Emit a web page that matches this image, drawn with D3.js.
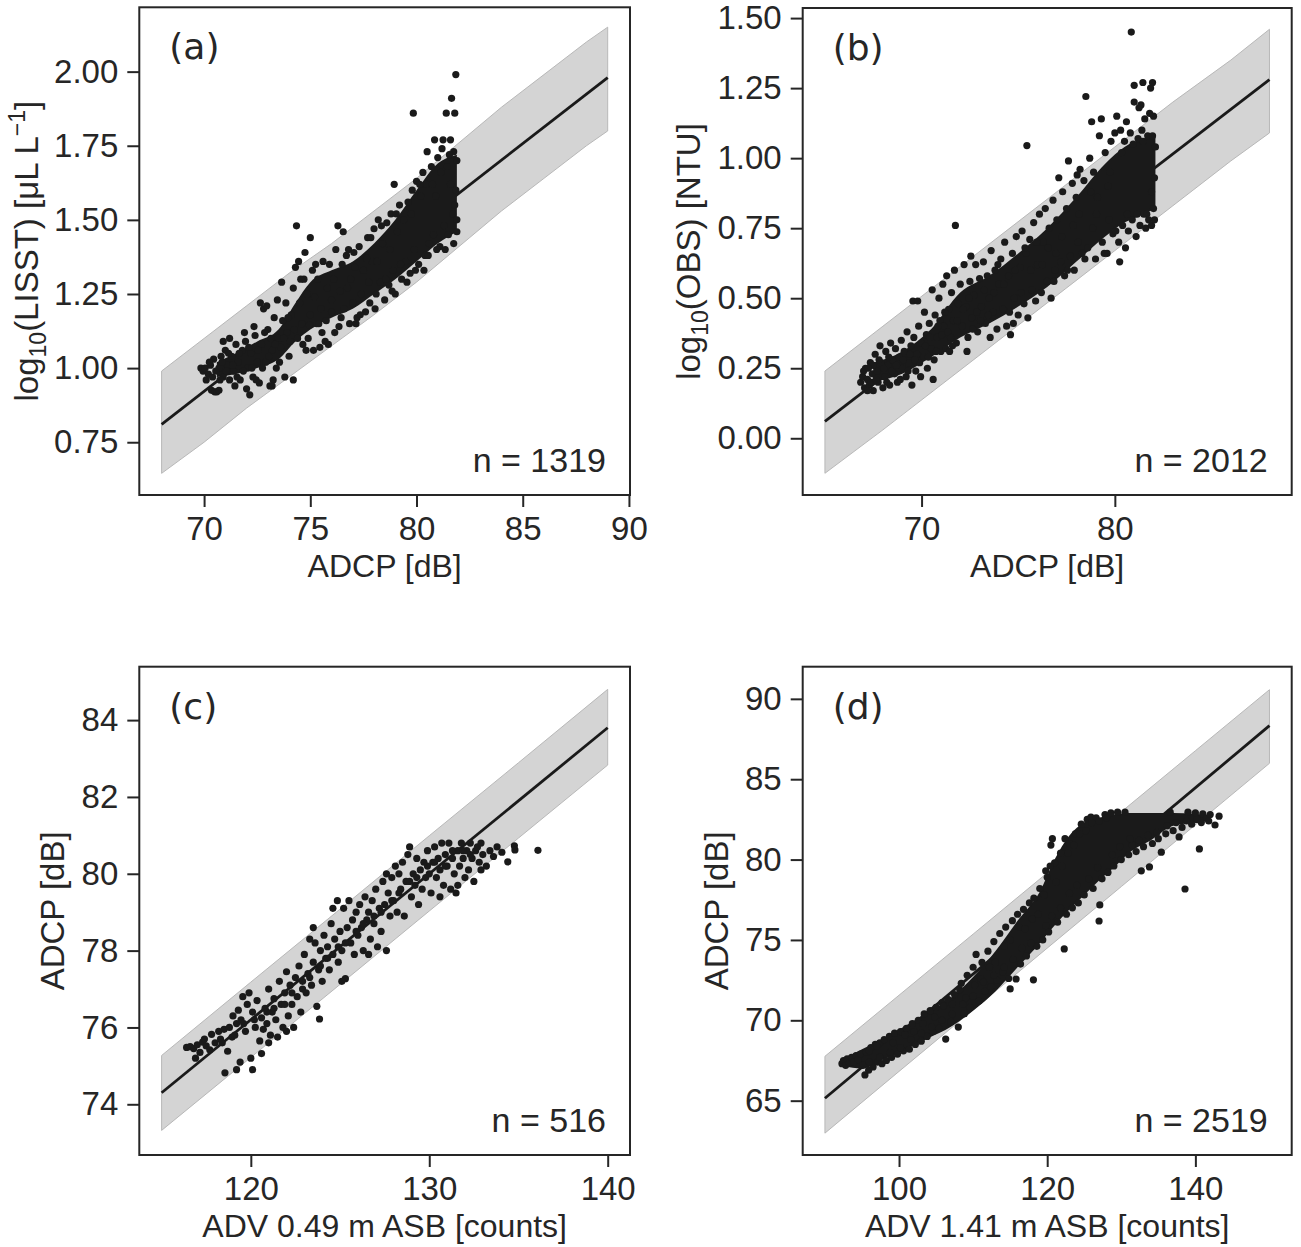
<!DOCTYPE html>
<html>
<head>
<meta charset="utf-8">
<script src="https://cdn.jsdelivr.net/npm/d3@7"></script>
<style>
  body { margin: 0; background: #fff; }
  text { font-family: "Liberation Sans", Arial, sans-serif; fill: #262626; }
</style>
</head>
<body>
<div id="fig"></div>
<script>
// ---- panel (a): LISST vs ADCP ----
var aXTicks = [70, 75, 80, 85, 90];
var aYTicks = [0.75, 1.0, 1.25, 1.5, 1.75, 2.0];
var aLineX = [68, 89];
var aLineY = [0.81, 1.98];
var aBandX = [68, 70, 72, 74, 76, 78, 80, 82, 84, 86, 88, 89];
var aBandHi = [0.99, 1.10, 1.21, 1.32, 1.42, 1.53, 1.64, 1.76, 1.88, 1.99, 2.10, 2.15];
var aBandLo = [0.645, 0.75, 0.865, 0.97, 1.075, 1.18, 1.29, 1.41, 1.53, 1.64, 1.75, 1.80];
// dense black core of overlapping dots
var aCoreX = [70.6, 71.5, 72.5, 73.5, 74.3, 75, 76, 77, 78, 79, 80, 81, 81.9];
var aCoreLo = [0.97, 0.98, 1.00, 1.03, 1.09, 1.13, 1.17, 1.20, 1.25, 1.30, 1.36, 1.42, 1.46];
var aCoreHi = [1.02, 1.05, 1.09, 1.13, 1.22, 1.29, 1.33, 1.36, 1.42, 1.50, 1.60, 1.69, 1.72];
var aPoints = [
  [69.85,1.00],[69.95,0.99],[70.05,1.0],[70.2,0.98],[70.3,1.01],[70.4,0.97],[70.35,0.925],[70.5,0.92],[70.6,0.92],[70.7,0.925],[70.45,1.03],
  [70.7,1.0],[70.8,1.04],[70.9,0.97],[71.0,1.06],[71.1,1.01],[71.2,0.96],[71.3,1.04],[71.4,0.99],[71.5,1.08],[70.9,1.09],[71.2,1.1],[71.45,0.94],
  [71.6,1.02],[71.7,0.96],[71.8,1.06],[71.9,1.12],[72.0,0.93],[72.05,1.0],[72.2,1.05],[72.3,0.97],[72.4,1.11],[72.5,1.02],[72.15,0.91],[71.95,1.09],[72.35,1.14],
  [72.6,0.95],[72.7,1.08],[72.8,1.2],[72.9,1.02],[73.0,1.13],[73.1,0.94],[73.2,1.06],[73.3,1.17],[73.4,1.0],[73.5,1.1],[72.65,1.22],[72.95,1.21],[73.25,0.96],[73.45,1.23],[73.2,0.94],
  [73.6,1.07],[73.65,1.29],[73.7,1.16],[73.8,0.97],[73.85,1.22],[73.9,1.12],[74.0,1.04],[74.1,1.18],[74.2,0.96],[74.2,1.27],[74.3,1.34],[74.35,1.48],[74.4,1.1],[74.45,1.36],[74.5,1.22],
  [74.6,1.15],[74.7,1.3],[74.75,1.39],[74.8,1.06],[74.85,1.25],[74.9,1.1],[75.0,1.44],[75.0,1.18],[75.1,1.33],[75.15,1.06],[75.2,1.24],[75.3,1.15],[75.35,1.3],[75.45,1.07],[75.5,1.2],[74.95,1.145],[75.4,1.15],
  [75.6,1.36],[75.7,1.09],[75.8,1.27],[75.85,1.08],[75.9,1.35],[76.0,1.19],[76.1,1.3],[76.2,1.4],[76.3,1.48],[76.35,1.14],[76.4,1.26],[76.5,1.35],[76.55,1.46],[76.0,1.23],
  [76.6,1.2],[76.7,1.38],[76.8,1.40],[76.85,1.15],[76.9,1.3],[77.0,1.22],[77.1,1.34],[77.2,1.17],[77.3,1.41],[77.4,1.25],[77.5,1.33],[77.15,1.15],
  [77.6,1.19],[77.7,1.44],[77.8,1.22],[77.9,1.36],[78.0,1.47],[78.1,1.25],[78.2,1.50],[78.3,1.29],[78.4,1.42],[78.5,1.23],[77.75,1.29],[78.15,1.36],
  [78.6,1.49],[78.7,1.28],[78.8,1.52],[78.9,1.33],[78.95,1.62],[79.0,1.25],[79.1,1.46],[79.2,1.55],[79.3,1.3],[79.4,1.5],[79.5,1.36],[78.75,1.40],
  [79.6,1.56],[79.7,1.32],[79.8,1.6],[79.85,1.86],[79.9,1.4],[80.0,1.63],[80.1,1.35],[80.2,1.58],[80.3,1.66],[80.4,1.38],[80.5,1.73],[80.45,1.62],
  [80.6,1.42],[80.7,1.68],[80.8,1.45],[80.85,1.77],[80.9,1.58],[81.0,1.71],[81.1,1.41],[81.2,1.74],[81.25,1.77],[81.3,1.48],[81.4,1.86],[81.45,1.68],
  [81.5,1.45],[81.6,1.77],[81.65,1.91],[81.7,1.52],[81.75,1.73],[81.8,1.86],[81.85,1.99],[81.85,1.6],[81.9,1.70],[81.9,1.50],[81.8,1.55],[81.6,1.62],
  [70.1,0.96],[70.25,1.02],[70.55,0.99],[70.75,0.96],[70.85,1.02],[71.05,0.99],[71.15,1.05],[71.35,1.01],[71.55,0.97],[71.65,1.05],[71.85,0.99],[72.1,1.07],
  [72.25,1.0],[72.45,0.96],[72.55,1.06],[72.75,1.0],[72.85,1.12],[73.05,1.04],[73.15,1.1],[73.35,1.08],[73.55,1.02],[73.75,1.1],[73.95,1.17],[74.05,1.09],
  [74.25,1.13],[74.55,1.3],[74.65,1.08],[75.25,1.35],[75.55,1.12],[75.75,1.16],[76.15,1.12],[76.45,1.17],[76.75,1.27],[77.05,1.39],[77.35,1.18],[77.65,1.37],
  [77.85,1.44],[78.05,1.2],[78.35,1.48],[78.55,1.30],[78.85,1.26],[79.05,1.52],[79.25,1.35],[79.55,1.29],[79.75,1.52],[79.95,1.33],[80.15,1.62],[80.35,1.33],
  [80.55,1.38],[80.75,1.62],[80.95,1.40],[81.15,1.66],[81.35,1.40],[81.55,1.72],[81.75,1.42],[81.9,1.46]
];

// ---- panel (b): OBS vs ADCP ----
var bXTicks = [70, 80];
var bYTicks = [0.0, 0.25, 0.5, 0.75, 1.0, 1.25, 1.5];
var bLineX = [65, 88];
var bLineY = [0.06, 1.28];
var bBandX = [65, 68, 71, 74, 77, 80, 83, 86, 88];
var bBandHi = [0.24, 0.40, 0.56, 0.72, 0.88, 1.04, 1.20, 1.35, 1.46];
var bBandLo = [-0.125, 0.03, 0.19, 0.35, 0.51, 0.67, 0.83, 0.99, 1.09];
var bCoreX = [67.5, 69, 70.5, 72, 73.5, 75, 76.5, 78, 79.5, 80.5, 81.5, 82.1];
var bCoreLo = [0.20, 0.23, 0.29, 0.36, 0.41, 0.47, 0.54, 0.63, 0.72, 0.77, 0.80, 0.82];
var bCoreHi = [0.27, 0.31, 0.39, 0.52, 0.58, 0.66, 0.75, 0.86, 0.98, 1.04, 1.07, 1.08];
var bPoints = [
  [66.85,0.20],[66.95,0.22],[67.05,0.18],[67.1,0.25],[67.2,0.21],[67.3,0.19],[67.35,0.27],[67.45,0.23],[67.5,0.17],[67.6,0.30],[67.7,0.24],[67.75,0.20],[67.85,0.33],[67.9,0.27],[68.0,0.18],[67.5,0.26],[67.2,0.17],
  [68.1,0.22],[68.15,0.31],[68.25,0.26],[68.35,0.19],[68.4,0.34],[68.5,0.28],[68.6,0.23],[68.65,0.32],[68.75,0.20],[68.85,0.29],[68.95,0.35],[69.0,0.25],[68.3,0.29],
  [69.1,0.31],[69.2,0.22],[69.25,0.38],[69.35,0.27],[69.45,0.33],[69.5,0.19],[69.55,0.49],[69.6,0.36],[69.7,0.24],[69.75,0.30],[69.85,0.40],[69.9,0.27],[70.0,0.34],[69.8,0.49],
  [70.1,0.29],[70.15,0.45],[70.25,0.37],[70.3,0.25],[70.4,0.41],[70.5,0.32],[70.55,0.53],[70.65,0.28],[70.7,0.44],[70.8,0.36],[70.9,0.50],[71.0,0.31],[70.95,0.42],[70.6,0.21],
  [71.1,0.55],[71.15,0.40],[71.25,0.32],[71.3,0.58],[71.4,0.46],[71.5,0.36],[71.55,0.52],[71.65,0.42],[71.7,0.60],[71.75,0.76],[71.8,0.34],[71.9,0.48],[72.0,0.55],[71.45,0.31],
  [72.1,0.40],[72.2,0.62],[72.3,0.47],[72.4,0.36],[72.5,0.56],[72.55,0.65],[72.6,0.43],[72.7,0.51],[72.8,0.62],[72.9,0.38],[73.0,0.57],[72.35,0.31],
  [73.1,0.47],[73.2,0.63],[73.3,0.41],[73.4,0.58],[73.5,0.50],[73.6,0.67],[73.7,0.45],[73.8,0.60],[73.9,0.39],[74.0,0.55],[73.55,0.36],
  [74.1,0.64],[74.2,0.46],[74.3,0.70],[74.4,0.40],[74.5,0.58],[74.6,0.37],[74.7,0.66],[74.8,0.50],[74.9,0.72],[75.0,0.44],[74.75,0.41],
  [75.1,0.61],[75.2,0.74],[75.3,0.48],[75.4,0.66],[75.45,1.045],[75.5,0.43],[75.6,0.71],[75.7,0.53],[75.8,0.77],[75.9,0.49],[76.0,0.62],
  [76.1,0.80],[76.2,0.52],[76.3,0.70],[76.4,0.82],[76.5,0.56],[76.6,0.75],[76.7,0.50],[76.8,0.85],[76.9,0.60],[77.0,0.78],[76.85,0.56],
  [77.1,0.93],[77.2,0.63],[77.3,0.88],[77.4,0.58],[77.5,0.82],[77.6,0.99],[77.7,0.65],[77.8,0.91],[77.9,0.60],[78.0,0.86],[78.05,0.94],
  [78.1,0.70],[78.2,0.96],[78.3,0.66],[78.4,0.92],[78.5,1.22],[78.6,0.68],[78.7,1.0],[78.8,1.13],[78.85,0.75],[78.9,0.95],[79.0,0.64],
  [79.1,0.86],[79.2,1.08],[79.3,1.14],[79.35,0.70],[79.5,1.02],[79.6,0.66],[79.7,0.78],[79.8,1.06],[79.9,0.73],[80.0,1.09],[79.65,0.90],
  [80.1,1.15],[80.2,0.70],[80.25,0.63],[80.3,1.10],[80.4,0.76],[80.5,1.06],[80.55,0.68],[80.6,1.13],[80.7,0.74],[80.8,1.09],[80.85,1.45],[80.9,0.78],[81.0,1.20],[81.0,1.26],
  [81.1,0.72],[81.2,1.07],[81.25,1.18],[81.3,0.76],[81.35,1.19],[81.4,1.10],[81.45,1.27],[81.5,0.80],[81.55,1.14],[81.6,0.75],[81.7,1.08],[81.75,0.78],[81.8,1.16],[81.85,1.25],[81.9,0.76],[81.95,1.27],[82.0,0.82],[82.0,1.15],[82.05,0.93],[82.1,1.04],[81.9,0.88],
  [67.0,0.24],[67.25,0.25],[67.4,0.2],[67.65,0.21],[67.8,0.28],[68.05,0.25],[68.2,0.2],[68.45,0.24],[68.7,0.26],[68.9,0.21],[69.05,0.28],[69.3,0.24],[69.4,0.30],
  [69.65,0.28],[69.95,0.22],[70.2,0.33],[70.35,0.29],[70.45,0.36],[70.75,0.31],[70.85,0.40],[71.05,0.37],[71.2,0.45],[71.35,0.38],[71.6,0.33],[71.85,0.42],
  [72.15,0.46],[72.45,0.50],[72.65,0.39],[72.85,0.45],[73.05,0.42],[73.25,0.53],[73.45,0.44],[73.75,0.52],[73.95,0.62],[74.25,0.55],[74.55,0.45],[74.85,0.60],
  [75.15,0.52],[75.35,0.68],[75.65,0.60],[75.95,0.70],[76.25,0.62],[76.55,0.68],[76.95,0.66],[77.25,0.72],[77.55,0.60],[77.85,0.76],[78.15,0.80],[78.45,0.64],
  [78.75,0.88],[79.05,0.80],[79.45,0.66],[79.75,0.95],[80.05,0.74],[80.35,1.02],[80.65,0.80],[80.95,1.05],[81.15,0.80],[81.45,1.06],[81.65,0.80],[82.05,0.78],[81.95,1.08]
];

// ---- panel (c): ADCP vs ADV 0.49 m ----
var cXTicks = [120, 130, 140];
var cYTicks = [74, 76, 78, 80, 82, 84];
var cLineX = [115, 140];
var cLineY = [74.3, 83.8];
var cBandX = [115, 120, 125, 130, 135, 140];
var cBandHi = [75.27, 77.18, 79.08, 80.99, 82.89, 84.8];
var cBandLo = [73.32, 75.22, 77.12, 79.03, 80.93, 82.83];
var cPoints = [
  [116.4,75.48],[116.6,75.5],[116.8,75.45],[117.0,75.55],[117.15,75.35],[117.3,75.62],[117.5,75.52],[117.7,75.42],[117.8,75.82],[116.9,75.2],[117.4,75.7],
  [118.0,75.6],[118.2,75.9],[118.3,75.7],[118.5,75.95],[118.55,74.82],[118.7,75.38],[118.8,76.0],[118.95,75.75],[119.0,76.3],[119.2,74.9],[119.2,76.1],[119.3,76.45],[119.4,75.1],[119.45,76.2],[119.55,76.8],[119.7,75.9],[119.8,76.6],[119.9,76.9],[120.0,75.2],[120.1,74.9],[120.1,76.4],[120.25,76.0],[120.35,76.7],[120.5,75.65],[120.6,75.32],[120.6,76.25],[120.7,75.95],[120.8,76.5],[120.9,76.1],
  [121.0,77.0],[121.1,75.8],[121.2,76.4],[121.3,76.75],[121.4,76.2],[121.5,75.75],[121.6,77.2],[121.7,76.6],[121.8,76.0],[121.9,76.9],[122.0,77.45],[122.1,76.3],[122.2,77.1],[122.3,76.6],[122.4,76.0],[122.5,77.3],[122.6,76.8],[122.7,77.6],[122.8,76.4],[122.9,77.0],
  [123.0,77.9],[123.1,76.9],[123.2,77.4],[123.3,78.3],[123.4,77.1],[123.5,77.7],[123.6,78.2],[123.7,76.55],[123.85,76.22],[123.8,77.5],[123.9,78.0],[124.0,77.2],[124.1,78.4],[124.2,77.8],[124.3,78.1],[124.4,77.5],[124.5,78.7],[124.6,77.9],[124.7,78.3],[124.85,79.3],[124.9,77.7],
  [125.0,78.5],[125.1,78.0],[125.2,79.1],[125.3,77.27],[125.4,78.6],[125.5,79.3],[125.6,78.2],[125.7,78.8],[125.8,77.9],[125.9,79.0],[126.0,78.4],
  [126.1,79.2],[126.2,78.6],[126.3,78.0],[126.4,79.4],[126.5,78.8],[126.6,79.0],[126.7,78.3],[126.8,79.3],[126.9,78.7],[127.0,79.6],[127.1,78.1],[127.2,79.1],[127.3,78.5],[127.4,79.8],[127.5,79.2],[127.6,78.0],[127.7,79.5],[127.8,78.9],[127.9,79.9],
  [128.0,79.3],[128.1,80.2],[128.2,79.0],[128.3,80.0],[128.4,79.6],[128.5,80.3],[128.6,78.9],[128.7,79.8],[128.8,80.5],[128.9,80.7],[129.0,79.4],[129.1,80.0],[129.2,79.7],[129.3,80.4],[129.4,79.2],[129.5,80.1],[129.6,79.6],[129.7,80.3],[129.8,79.9],[129.9,80.6],
  [130.0,80.0],[130.1,79.5],[130.2,80.3],[130.3,80.7],[130.4,79.9],[130.5,80.4],[130.6,80.1],[130.7,80.8],[130.8,79.7],[130.9,80.5],[131.0,80.2],[131.1,80.8],[131.2,79.6],[131.3,80.4],[131.4,80.0],[131.5,79.5],[131.6,80.6],[131.7,80.2],[131.8,80.8],[131.9,80.4],
  [132.0,79.9],[132.1,80.6],[132.2,80.1],[132.3,80.8],[132.4,80.4],[132.5,79.8],[132.6,80.6],[132.7,80.7],[132.8,80.3],[132.9,80.8],[133.0,80.5],[133.2,80.2],[133.4,80.6],[133.6,80.45],[133.8,80.7],
  [134.07,80.56],[134.4,80.31],[134.77,80.73],[134.8,80.62],[136.09,80.61],
  [118.4,75.6],[119.1,75.8],[119.6,76.1],[120.2,76.2],[120.9,76.4],[121.3,76.5],[121.9,76.6],[122.3,76.9],[122.9,77.2],[123.3,77.3],[123.9,77.6],[124.3,77.8],
  [124.9,78.1],[125.3,78.2],[125.9,78.5],[126.3,78.7],[126.9,78.9],[127.3,79.0],[127.9,79.3],[128.3,79.5],[128.9,79.8],[129.3,79.9],[129.9,80.2],[130.3,80.3],
  [130.9,80.2],[131.3,80.6],[131.9,80.6],[132.3,80.5],[125.1,77.2],[126.6,77.9],[124.6,79.1],[123.5,78.6],[127.6,80.0],[122.0,75.9],[121.0,75.6],[130.6,79.4],
  [131.6,79.7],[132.9,80.1]
];

// ---- panel (d): ADCP vs ADV 1.41 m ----
var dXTicks = [100, 120, 140];
var dYTicks = [65, 70, 75, 80, 85, 90];
var dLineX = [90, 150];
var dLineY = [65.15, 88.33];
var dBandX = [90, 100, 110, 120, 130, 140, 150];
var dBandHi = [67.76, 71.56, 75.36, 79.17, 82.97, 86.77, 90.57];
var dBandLo = [62.98, 66.82, 70.65, 74.49, 78.32, 82.16, 85.99];
var dCoreX = [92.5, 95, 98, 101, 104, 107, 110, 113, 116, 119, 121, 123, 125, 127, 129, 131, 134, 137, 140, 142];
var dCoreLo = [67.15, 67.0, 67.6, 68.2, 68.9, 69.6, 70.6, 71.8, 73.3, 74.8, 75.9, 76.9, 77.8, 78.7, 79.5, 80.4, 81.2, 82.1, 82.3, 82.4];
var dCoreHi = [67.6, 68.2, 68.9, 69.7, 70.5, 71.4, 72.7, 74.3, 76.2, 78.0, 80.0, 81.5, 82.3, 82.6, 82.8, 82.9, 82.9, 82.9, 82.85, 82.7];
var dPoints = [
  [92.3,67.3],[92.5,67.5],[92.8,67.2],[93.0,67.6],[93.3,67.35],[93.6,67.7],[93.9,67.4],[94.2,67.8],[94.5,67.55],[94.8,67.9],[95.1,67.2],[95.4,66.6],[95.6,68.0],[95.9,66.9],[96.2,68.3],[96.5,67.1],[96.8,68.5],[97.1,67.4],[97.4,68.6],[97.7,67.3],
  [98.0,68.8],[98.3,67.5],[98.7,69.0],[99.0,67.7],[99.4,69.2],[99.8,67.9],[100.2,69.3],[100.6,68.1],[101.0,69.5],[101.4,68.2],[101.8,69.8],[102.2,68.5],[102.6,70.0],[103.0,68.7],[103.4,70.4],[103.8,69.0],[104.2,70.6],[104.6,69.3],[105.0,70.8],[105.4,69.5],
  [105.8,71.1],[106.3,68.83],[106.6,71.3],[107.0,69.9],[107.5,71.6],[108.0,69.58],[108.4,72.3],[108.8,70.4],[109.2,72.8],[109.6,70.8],[110.0,73.3],[110.4,74.1],[110.8,71.2],[111.2,73.6],[111.6,71.8],[112.0,74.3],[112.4,72.1],[112.8,74.9],[113.2,72.5],[113.6,75.4],
  [114.0,73.0],[114.4,75.8],[114.8,72.6],[115.0,71.95],[115.3,76.2],[115.8,72.57],[116.0,76.6],[116.4,73.5],[116.8,76.9],[117.2,74.0],[117.6,77.3],[118.14,72.52],[118.2,77.6],[118.6,74.6],[119.0,78.2],[119.4,75.0],[119.8,79.3],[120.2,75.5],[120.5,80.9],[120.7,81.3],
  [121.0,79.8],[121.4,76.1],[121.8,80.4],[122.3,74.44],[122.4,81.3],[122.6,76.6],[123.0,81.0],[123.4,77.0],[123.8,81.6],[124.2,77.3],[124.6,82.2],[125.0,77.8],[125.4,82.5],[125.9,82.65],[126.2,78.2],[126.6,82.6],[127.0,76.18],[127.1,77.18],[127.4,78.8],[127.8,82.8],
  [128.2,79.2],[128.6,82.9],[129.0,79.6],[129.5,82.95],[130.0,80.0],[130.5,82.95],[131.0,80.3],[131.5,80.9],[132.0,80.5],[132.7,79.3],[133.0,80.8],[133.8,79.54],[134.2,81.0],[135.0,81.3],[135.4,80.46],[136.0,81.6],[136.6,82.95],[137.0,81.8],[137.8,81.41],[138.2,82.0],
  [138.6,78.17],[139.0,82.95],[139.5,82.2],[140.0,82.9],[140.54,80.66],[140.8,82.3],[141.0,82.85],[141.5,82.58],[142.0,82.8],[142.65,82.15],[143.2,82.7],
  [96.0,68.1],[97.0,68.4],[99.2,68.6],[100.8,69.1],[102.0,69.3],[103.2,69.8],[104.8,70.2],[106.0,70.9],[107.2,71.0],[108.2,71.9],[109.0,71.4],[110.2,72.2],
  [111.0,72.6],[112.2,73.3],[113.0,73.6],[114.2,74.6],[115.0,75.0],[116.2,75.8],[117.0,75.7],[118.0,76.3],[118.8,76.6],[119.6,77.8],[120.0,78.9],[120.4,79.6],
  [121.2,78.6],[122.0,79.6],[122.8,80.4],[123.6,80.9],[124.4,81.6],[125.2,81.8],[126.0,82.3],[127.0,82.4],[128.0,82.6],[131.2,81.3],[132.4,81.2],[133.6,81.5],
  [134.8,81.7],[136.2,82.1],[137.4,82.3],[138.8,82.4],[140.2,82.5],[141.8,82.4],[128.8,80.3],[129.8,80.8],[126.8,79.5],[125.6,78.8],[124.0,78.4],[123.0,77.9],
  [121.8,77.0],[120.6,76.5],[119.8,75.9],[117.8,74.8],[116.6,74.5],[115.4,73.8],[114.2,73.3],[112.8,72.8],[111.4,72.4],[110.0,71.5],[108.6,71.0],[107.2,70.4],
  [105.8,70.0],[104.4,69.6],[103.0,69.2],[101.6,68.8],[100.2,68.3],[98.8,68.0],[97.4,67.7],[96.0,67.4]
];

// panel layout (pixel boxes and axis domains)
var panels = [
  {id: "(a)", n: "n = 1319", box: [139.3, 7.3, 630, 495], xd: [66.95, 90.05], yd: [0.572, 2.217],
   xt: aXTicks, yt: aYTicks, yfmt: ".2f", xl: "ADCP [dB]", yl: ["log", "10", "(LISST) [μL L", "−1", "]"], ylx: -101,
   lx: aLineX, ly: aLineY, bx: aBandX, bh: aBandHi, bl: aBandLo, cx: aCoreX, cl: aCoreLo, ch: aCoreHi, pts: aPoints},
  {id: "(b)", n: "n = 2012", box: [802.7, 8, 1291.7, 495], xd: [63.85, 89.15], yd: [-0.2025, 1.536],
   xt: bXTicks, yt: bYTicks, yfmt: ".2f", xl: "ADCP [dB]", yl: ["log", "10", "(OBS) [NTU]"], ylx: -103,
   lx: bLineX, ly: bLineY, bx: bBandX, bh: bBandHi, bl: bBandLo, cx: bCoreX, cl: bCoreLo, ch: bCoreHi, pts: bPoints},
  {id: "(c)", n: "n = 516", box: [139.3, 666.7, 630, 1155], xd: [113.75, 141.25], yd: [72.68, 85.39],
   xt: cXTicks, yt: cYTicks, yfmt: "d", xl: "ADV 0.49 m ASB [counts]", yl: ["ADCP [dB]"], ylx: -75,
   lx: cLineX, ly: cLineY, bx: cBandX, bh: cBandHi, bl: cBandLo, cx: [], cl: [], ch: [], pts: cPoints},
  {id: "(d)", n: "n = 2519", box: [802.7, 666.7, 1291.7, 1155], xd: [87, 153], yd: [61.62, 92.0],
   xt: dXTicks, yt: dYTicks, yfmt: "d", xl: "ADV 1.41 m ASB [counts]", yl: ["ADCP [dB]"], ylx: -75,
   lx: dLineX, ly: dLineY, bx: dBandX, bh: dBandHi, bl: dBandLo, cx: dCoreX, cl: dCoreLo, ch: dCoreHi, pts: dPoints}
];

var ink = "#1a1a1a";
var svg = d3.select("#fig").append("svg")
  .attr("width", 1301)
  .attr("height", 1247);

panels.forEach(function (p) {
  var x0 = p.box[0], y0 = p.box[1], w = p.box[2] - p.box[0], h = p.box[3] - p.box[1];
  var g = svg.append("g").attr("transform", "translate(" + x0 + "," + y0 + ")");

  var x = d3.scaleLinear().domain(p.xd).range([0, w]);
  var y = d3.scaleLinear().domain(p.yd).range([h, 0]);

  // prediction band
  var band = d3.area()
    .x(function (d, i) { return x(p.bx[i]); })
    .y0(function (d, i) { return y(p.bl[i]); })
    .y1(function (d, i) { return y(p.bh[i]); });
  g.append("path")
    .attr("d", band(p.bx))
    .attr("fill", "#d4d4d4")
    .attr("stroke", "#b8b8b8")
    .attr("stroke-width", 1);

  // regression line
  g.append("path")
    .attr("d", d3.line()
      .x(function (d, i) { return x(p.lx[i]); })
      .y(function (d, i) { return y(p.ly[i]); })(p.lx))
    .attr("fill", "none")
    .attr("stroke", ink)
    .attr("stroke-width", 2.8);

  // dense core of overlapping dots
  if (p.cx.length) {
    var core = d3.area()
      .curve(d3.curveMonotoneX)
      .x(function (d, i) { return x(p.cx[i]); })
      .y0(function (d, i) { return y(p.cl[i]); })
      .y1(function (d, i) { return y(p.ch[i]); });
    g.append("path").attr("d", core(p.cx)).attr("fill", ink);
  }

  g.append("g")
    .selectAll("circle")
    .data(p.pts)
    .enter()
    .append("circle")
    .attr("cx", function (d) { return x(d[0]); })
    .attr("cy", function (d) { return y(d[1]); })
    .attr("r", 3.6)
    .attr("fill", ink);

  // frame
  g.append("rect")
    .attr("width", w)
    .attr("height", h)
    .attr("fill", "none")
    .attr("stroke", "#262626")
    .attr("stroke-width", 2);

  // axes
  var xa = g.append("g").attr("transform", "translate(0," + h + ")")
    .call(d3.axisBottom(x).tickValues(p.xt).tickFormat(d3.format("d")).tickSize(12).tickPadding(10).tickSizeOuter(0));
  var ya = g.append("g")
    .call(d3.axisLeft(y).tickValues(p.yt).tickFormat(d3.format(p.yfmt)).tickSize(12).tickPadding(9).tickSizeOuter(0));
  [xa, ya].forEach(function (a) {
    a.select(".domain").remove();
    a.selectAll("line").attr("stroke", "#262626").attr("stroke-width", 2);
    a.selectAll("text").attr("fill", "#262626").style("font-size", "33px")
      .style("font-family", '"Liberation Sans", Arial, sans-serif');
  });

  // axis labels
  g.append("text")
    .attr("x", w / 2)
    .attr("y", h + 82)
    .attr("text-anchor", "middle")
    .style("font-size", "32px")
    .text(p.xl);

  var yl = g.append("text")
    .attr("transform", "translate(" + p.ylx + "," + (h / 2) + ") rotate(-90)")
    .attr("text-anchor", "middle")
    .style("font-size", "33px");
  p.yl.forEach(function (s, i) {
    var t = yl.append("tspan").text(s);
    if (p.yl.length > 1 && i === 1) t.attr("dy", 8).style("font-size", "23px");
    if (i === 2) t.attr("dy", -8);
    if (i === 3) t.attr("dy", -13).style("font-size", "23px");
    if (i === 4) t.attr("dy", 13);
  });

  // panel letter and sample count
  g.append("text")
    .attr("x", 30)
    .attr("y", 52)
    .style("font-family", '"DejaVu Sans", sans-serif')
    .style("font-size", "36px")
    .text(p.id);
  g.append("text")
    .attr("x", w - 24)
    .attr("y", h - 23)
    .attr("text-anchor", "end")
    .style("font-size", "34px")
    .text(p.n);
});
</script>
</body>
</html>
